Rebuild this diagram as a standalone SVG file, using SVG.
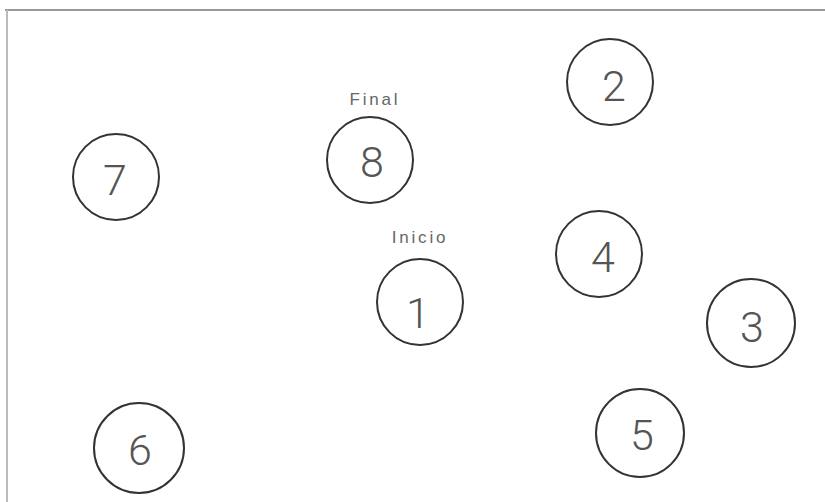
<svg xmlns="http://www.w3.org/2000/svg" width="825" height="502" viewBox="0 0 825 502">
<style>
.node circle{fill:none;stroke:#333;stroke-width:2}
.num{font-family:Roboto,"Liberation Sans",Arial,sans-serif;font-weight:300;font-size:43px;fill:#555;text-anchor:middle}
.lbl{font-family:"Liberation Sans",Arial,sans-serif;font-size:17px;fill:#666;text-anchor:middle;letter-spacing:2.8px}
</style>
<rect width="825" height="502" fill="#fff"/>
<g id="frame">
<line x1="5" y1="10" x2="825" y2="10" stroke="#999" stroke-width="2"/>
<line x1="7" y1="10" x2="7" y2="502" stroke="#bbb" stroke-width="2"/>
</g>
<g id="connectors"></g>
<g id="node1" class="node"><circle cx="420" cy="302" r="43"/><text class="num" x="418" y="328">1</text><text class="lbl" x="420" y="243">Inicio</text></g>
<g id="node2" class="node"><circle cx="610" cy="82" r="43"/><text class="num" x="614" y="101">2</text></g>
<g id="node3" class="node"><circle cx="751" cy="323" r="44"/><text class="num" x="752" y="342">3</text></g>
<g id="node4" class="node"><circle cx="599" cy="254" r="43"/><text class="num" x="603" y="272">4</text></g>
<g id="node5" class="node"><circle cx="640" cy="433" r="44"/><text class="num" x="642" y="450">5</text></g>
<g id="node6" class="node"><circle cx="139" cy="448" r="45"/><text class="num" x="140" y="465">6</text></g>
<g id="node7" class="node"><circle cx="116" cy="177" r="43"/><text class="num" x="115" y="195">7</text></g>
<g id="node8" class="node"><circle cx="370" cy="160" r="43"/><text class="num" x="372" y="177">8</text><text class="lbl" x="375" y="105">Final</text></g>
</svg>
